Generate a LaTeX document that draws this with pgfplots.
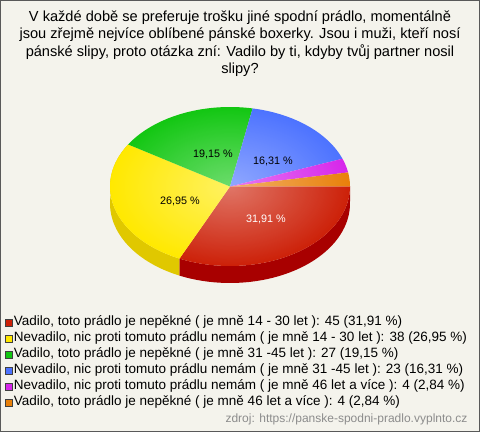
\documentclass[border=0pt]{standalone}
\usepackage{pgfplots}
\pgfplotsset{compat=1.18}
\usepackage{fontspec}
\setmainfont{Liberation Sans}
\definecolor{bg}{HTML}{F4F3EC}
\definecolor{cRed}{HTML}{CC2008}
\definecolor{cRedS}{HTML}{A80000}
\definecolor{cYel}{HTML}{FFE800}
\definecolor{cYelS}{HTML}{E0C800}
\definecolor{cGrn}{HTML}{12C612}
\definecolor{cBlu}{HTML}{4C72FF}
\definecolor{cMag}{HTML}{D626EA}
\definecolor{cOrg}{HTML}{E8800A}
\begin{document}
\begin{tikzpicture}
% data
\def\vA{45}\def\vB{38}\def\vC{27}\def\vD{23}\def\vE{4}\def\vF{4}
\pgfmathsetmacro{\tot}{\vA+\vB+\vC+\vD+\vE+\vF}
\pgfmathsetmacro{\aA}{0}
\pgfmathsetmacro{\aB}{\aA-360*\vA/\tot}
\pgfmathsetmacro{\aC}{\aB-360*\vB/\tot}
\pgfmathsetmacro{\aD}{\aC-360*\vC/\tot}
\pgfmathsetmacro{\aE}{\aD-360*\vD/\tot}
\pgfmathsetmacro{\aF}{\aE-360*\vE/\tot}
\pgfmathsetmacro{\aG}{\aF-360*\vF/\tot}
\def\cx{230}\def\cy{245.5}\def\rx{120}\def\ry{79.5}\def\dd{17}
\begin{axis}[
  scale only axis, width=480pt, height=432pt,
  xmin=0, xmax=480, ymin=0, ymax=432,
  hide axis, clip=false,
  legend cell align=left,
  legend style={at={(axis cs:1.5,118)}, anchor=north west, draw=none, fill=none,
    font=\fontsize{13.5}{15}\selectfont, row sep=4pt,
    nodes={inner xsep=1.6pt, inner ysep=0pt, text height=9pt, text depth=3pt}},
  legend image code/.code={\draw[#1, draw=black!75, line width=0.6pt] (0pt,-3.6pt) rectangle (7pt,3.4pt);},
]
\fill[bg] (axis cs:0,0) rectangle (axis cs:480,432);
\draw[black!65, line width=1pt] (axis cs:0.5,0.5) rectangle (axis cs:479.5,431.5);
% side walls
\newcommand{\side}[3]{%
\addplot[fill=#3, draw=none, forget plot, variable=\t, samples at={0,1,...,40,100,101,...,140}]
 ({\cx+\rx*cos( (\t<=40) ? (#1+(#2-#1)*\t/40) : (#2-(#2-#1)*(\t-100)/40) )},
  {\cy+\ry*sin( (\t<=40) ? (#1+(#2-#1)*\t/40) : (#2-(#2-#1)*(\t-100)/40) ) - (\t>=100)*\dd});}
\side{\aA}{\aB}{cRedS}
\side{\aB}{\aC}{cYelS}
% top faces
\newcommand{\topf}[4]{%
\addplot[fill=#3, draw=none, variable=\t, samples at={0,1,...,41}]
 ({(\t>40) ? \cx : \cx+\rx*cos(#1+(#2-#1)*\t/40)},
  {(\t>40) ? \cy : \cy+\ry*sin(#1+(#2-#1)*\t/40)});
\addlegendentry{#4}}
\topf{\aA}{\aB}{cRed}{Vadilo, toto prádlo je nepěkné ( je mně 14 - 30 let ): 45 (31,91 \%)}
\topf{\aB}{\aC}{cYel}{Nevadilo, nic proti tomuto prádlu nemám ( je mně 14 - 30 let ): 38 (26,95 \%)}
\topf{\aC}{\aD}{cGrn}{Vadilo, toto prádlo je nepěkné ( je mně 31 -45 let ): 27 (19,15 \%)}
\topf{\aD}{\aE}{cBlu}{Nevadilo, nic proti tomuto prádlu nemám ( je mně 31 -45 let ): 23 (16,31 \%)}
\topf{\aE}{\aF}{cMag}{Nevadilo, nic proti tomuto prádlu nemám ( je mně 46 let a více ): 4 (2,84 \%)}
\topf{\aF}{\aG}{cOrg}{Vadilo, toto prádlo je nepěkné ( je mně 46 let a více ): 4 (2,84 \%)}
% light from the centre
\shade[blend mode=screen, inner color=black!62, outer color=black]
  (axis cs:\cx,\cy) ellipse [x radius=\rx, y radius=\ry];
% slice labels
\node[font=\fontsize{10.8}{12}\selectfont, text=white] at (axis cs:266,213) {31,91 \%};
\node[font=\fontsize{10.8}{12}\selectfont] at (axis cs:180,231) {26,95 \%};
\node[font=\fontsize{10.8}{12}\selectfont] at (axis cs:213,278) {19,15 \%};
\node[font=\fontsize{10.8}{12}\selectfont] at (axis cs:273,271) {16,31 \%};
% title
\node[align=center, font=\fontsize{14.6}{17.3}\selectfont] at (axis cs:240,388.5)
 {V každé době se preferuje trošku jiné spodní prádlo, momentálně\\
  jsou zřejmě nejvíce oblíbené pánské boxerky. Jsou i muži, kteří nosí\\
  pánské slipy, proto otázka zní: Vadilo by ti, kdyby tvůj partner nosil\\
  slipy?};
\node[anchor=east, text=black!45, font=\fontsize{12}{13}\selectfont] at (axis cs:471,13)
 {zdroj: https://panske-spodni-pradlo.vyplnto.cz};
\end{axis}
\end{tikzpicture}
\end{document}
